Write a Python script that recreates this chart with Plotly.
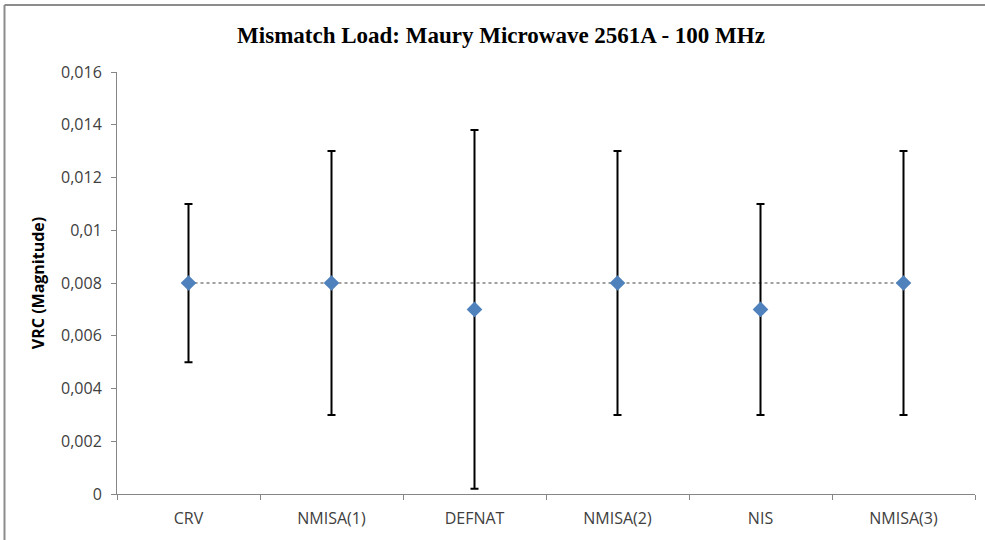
import plotly.graph_objects as go

categories = ["CRV", "NMISA(1)", "DEFNAT", "NMISA(2)", "NIS", "NMISA(3)"]
values = [0.008, 0.008, 0.007, 0.008, 0.007, 0.008]
uncertainty = [0.003, 0.005, 0.0068, 0.005, 0.004, 0.005]
reference_value = [0.008, 0.008, 0.008, 0.008, 0.008, 0.008]
y_tickvals = [0, 0.002, 0.004, 0.006, 0.008, 0.01, 0.012, 0.014, 0.016]
y_ticktext = ["0", "0,002", "0,004", "0,006", "0,008", "0,01", "0,012", "0,014", "0,016"]

W, H = 985, 540
L, R, T, B = 117, 10, 72, 46
pw, ph = W - L - R, H - T - B

fig = go.Figure()
fig.add_trace(go.Scatter(
    x=categories, y=reference_value, mode="lines",
    line=dict(color="#404040", width=1, dash="3px,3px"),
    showlegend=False, hoverinfo="skip"))
fig.add_trace(go.Scatter(
    x=categories, y=values, mode="markers",
    marker=dict(symbol="diamond", size=12, color="#4F81BD"),
    error_y=dict(type="data", array=uncertainty, visible=True,
                 color="black", thickness=2, width=4),
    showlegend=False))

font_sans = "Open Sans, Liberation Sans, sans-serif"
bx = (4.5 - L) / pw
by = (H - B - 5) / ph
fig.update_layout(
    width=W, height=H,
    margin=dict(l=L, r=R, t=T, b=B),
    paper_bgcolor="white", plot_bgcolor="white",
    title=dict(text="<b>Mismatch Load: Maury Microwave 2561A - 100 MHz</b>",
               font=dict(family="Liberation Serif, Times New Roman, serif", size=23, color="black"),
               x=501 / W, xanchor="center", xref="container",
               y=1 - 35 / H, yanchor="middle", yref="container"),
    xaxis=dict(type="category", tickson="boundaries", ticks="outside", ticklen=5,
               tickcolor="#868686", showline=True, linecolor="#868686", linewidth=1,
               showgrid=False, zeroline=False, range=[-0.5, 5.5],
               ticklabelstandoff=10,
               tickfont=dict(family=font_sans, size=16, color="#404040")),
    yaxis=dict(range=[0, 0.016], tickvals=y_tickvals, ticktext=y_ticktext,
               ticks="outside", ticklen=5, tickcolor="#868686",
               showline=True, linecolor="#868686", linewidth=1,
               showgrid=False, zeroline=False, ticklabelstandoff=6,
               tickfont=dict(family=font_sans, size=16, color="#404040")
               , title=dict(text="<b>VRC (Magnitude)</b>", standoff=12,
                          font=dict(family=font_sans, size=16, color="black"))),
    shapes=[
        dict(type="line", xref="paper", yref="paper", x0=bx, x1=(W - L) / pw, y0=by, y1=by,
             line=dict(color="#8c8c8c", width=2), layer="below"),
        dict(type="line", xref="paper", yref="paper", x0=bx, x1=bx, y0=by, y1=-B / ph,
             line=dict(color="#8c8c8c", width=2), layer="below"),
    ],
)

fig.write_html("out.html")
